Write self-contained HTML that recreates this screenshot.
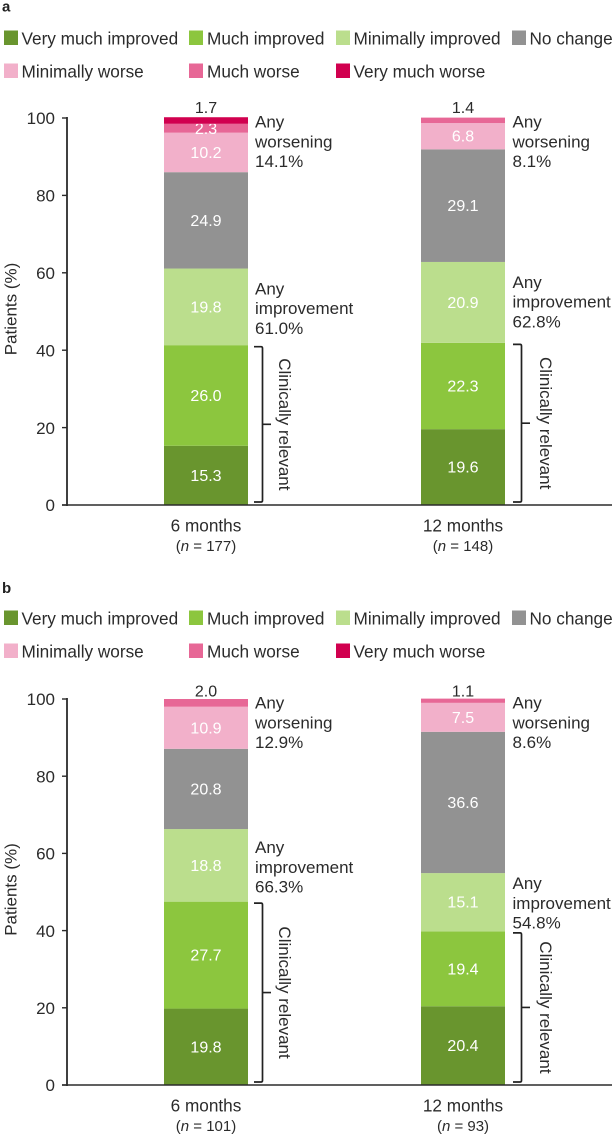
<!DOCTYPE html>
<html lang="en">
<head>
<meta charset="utf-8">
<title>Patient improvement at 6 and 12 months</title>
<style>
html,body{margin:0;padding:0;background:#fff;width:613px;height:1137px;overflow:hidden}
svg{display:block;font-family:"Liberation Sans",Arial,sans-serif;fill:#2b2b2b}
text{font-size:17px}
</style>
</head>
<body>
<svg id="figure" xmlns="http://www.w3.org/2000/svg" width="613" height="1137" viewBox="0 0 613 1137"></svg>
<script>
const seriesNames = ['Very much improved','Much improved','Minimally improved','No change','Minimally worse','Much worse','Very much worse'];
const seriesColors = ['#69952e','#8cc63e','#bbde8d','#929292','#f2b0ca','#e76796','#d1004f'];
const yTicks = [0,20,40,60,80,100];

const panelACategories = ['6 months','12 months'];
const panelASizes = [177,148];
const panelA6Months = [15.3,26.0,19.8,24.9,10.2,2.3,1.7];
const panelA12Months = [19.6,22.3,20.9,29.1,6.8,1.4,0];
const panelAWorsening = ['14.1%','8.1%'];
const panelAImprovement = ['61.0%','62.8%'];

const panelBCategories = ['6 months','12 months'];
const panelBSizes = [101,93];
const panelB6Months = [19.8,27.7,18.8,20.8,10.9,2.0,0];
const panelB12Months = [20.4,19.4,15.1,36.6,7.5,1.1,0];
const panelBWorsening = ['12.9%','8.6%'];
const panelBImprovement = ['66.3%','54.8%'];

const svg = document.getElementById('figure');
const NS = 'http://www.w3.org/2000/svg';

function make(tag, attrs, text, parent) {
  const el = document.createElementNS(NS, tag);
  for (const k in attrs) el.setAttribute(k, attrs[k]);
  if (text !== undefined) el.textContent = text;
  (parent || svg).appendChild(el);
  return el;
}

function drawPanel(p) {
  const g = make('g', {});
  
  

  const y = v => p.y0 - v * (p.y0 - p.y100) / 100;

  const letter = make('text', {x: 2, y: p.letterY, 'font-weight': 'bold', style: 'font-size:15px', fill: '#222'}, p.letter, g);
  
  

  // Legend
  const swatchX = [4, 189, 336, 512, 4, 189, 336];
  const legendTextX = [21.5, 207, 353.5, 529.5, 21.5, 207, 353.5];
  seriesNames.forEach((name, i) => {
    const row = i < 4 ? p.legendY : p.legendY + 33;
    const entry = make('g', {}, undefined, g);
    
    
    const swatch = make('rect', {x: swatchX[i], y: row - 7.5, width: 14, height: 14.5, fill: seriesColors[i]}, undefined, entry);
    
    
    const label = make('text', {x: legendTextX[i], y: row + 6.3, style: 'font-size:17.2px'}, name, entry);
    
    
  });

  // Bars
  const barLeft = [164, 421];
  const barWidth = 84;
  const noteGap = [7, 7.5];
  const bracketGap = [6, 8];
  const relevantGap = [31, 35];
  p.bars.forEach((values, b) => {
    const x = barLeft[b];
    const cx = x + barWidth / 2;
    const barGroup = make('g', {}, undefined, g);
    
    
    let cum = 0;
    let topIndex = 0;
    values.forEach((v, i) => { if (v > 0) topIndex = i; });
    values.forEach((v, i) => {
      if (v <= 0) return;
      const top = y(cum + v), bottom = y(cum);
      const seg = make('rect', {x: x, y: top, width: barWidth, height: bottom - top, fill: seriesColors[i]}, undefined, barGroup);
      
      
      if (i === topIndex) {
        const over = make('text', {x: cx, y: y(100) - p.overGap, 'text-anchor': 'middle', style: 'font-size:16px'}, v.toFixed(1), barGroup);
        
        
      } else if (v >= 2) {
        const lab = make('text', {x: cx, y: (top + bottom) / 2 + 5.5, 'text-anchor': 'middle', fill: '#fff', style: 'fill:#fff;font-size:16px'}, v.toFixed(1), barGroup);
        
        
      }
      cum += v;
    });

    // Any worsening note
    const noteX = x + barWidth + noteGap[b];
    const wTop = y(100) + 9.7;
    ['Any', 'worsening', p.worsening[b]].forEach((t, n) => {
      const note = make('text', {x: noteX, y: wTop + n * 19.7}, t, g);
      
      
    });

    // Any improvement note
    const improved = values[0] + values[1] + values[2];
    const iTop = y(improved) + p.noteOffsets[b];
    ['Any', 'improvement', p.improvement[b]].forEach((t, n) => {
      const note = make('text', {x: noteX, y: iTop + n * 19.7}, t, g);
      
      
    });

    // Clinically relevant bracket
    const bx = x + barWidth + bracketGap[b];
    const clinical = values[0] + values[1];
    const bTop = y(clinical) + 1.5;
    const bBottom = p.y0 - 3;
    const bMid = (bTop + bBottom) / 2;
    const bracket = make('path', {
      d: 'M' + bx + ' ' + bTop + 'H' + (bx + 7) + 'Q' + (bx + 8.5) + ' ' + bTop + ' ' + (bx + 8.5) + ' ' + (bTop + 1.5) +
         'V' + (bBottom - 1.5) + 'Q' + (bx + 8.5) + ' ' + bBottom + ' ' + (bx + 7) + ' ' + bBottom + 'H' + bx +
         'M' + (bx + 8.5) + ' ' + bMid + 'H' + (bx + 17),
      fill: 'none', stroke: '#222', 'stroke-width': 1.7
    }, undefined, g);
    
    
    const tx = x + barWidth + relevantGap[b];
    const rel = make('text', {x: tx, y: bMid, 'text-anchor': 'middle', transform: 'rotate(90 ' + tx + ' ' + bMid + ')'}, 'Clinically relevant', g);
    
    

    // Category labels
    const cat = make('text', {x: cx, y: p.y0 + 26.5, 'text-anchor': 'middle', style: 'font-size:17.2px'}, p.categories[b], g);
    
    
    const sz = make('text', {x: cx, y: p.y0 + 46, 'text-anchor': 'middle', style: 'font-size:15px'}, undefined, g);
    
    
    make('tspan', {}, '(', sz);
    make('tspan', {'font-style': 'italic'}, 'n', sz);
    make('tspan', {}, ' = ' + p.sizes[b] + ')', sz);
  });

  // Axes
  const yAxis = make('line', {x1: 67, x2: 67, y1: y(100) - 1, y2: p.y0 + 1, stroke: '#2b2b2b', 'stroke-width': 1.8}, undefined, g);
  
  
  const xAxis = make('line', {x1: 62, x2: 612, y1: p.y0, y2: p.y0, stroke: '#2b2b2b', 'stroke-width': 1.6}, undefined, g);
  
  
  yTicks.forEach(t => {
    const tick = make('line', {x1: 62, x2: 67, y1: y(t), y2: y(t), stroke: '#2b2b2b', 'stroke-width': 1.4}, undefined, g);
    
    
    const lab = make('text', {x: 55, y: y(t) + 6.2, 'text-anchor': 'end'}, String(t), g);
    
    
  });
  const ym = (y(100) + p.y0) / 2 - 2.5;
  const title = make('text', {x: 16.5, y: ym, 'text-anchor': 'middle', transform: 'rotate(-90 16.5 ' + ym + ')'}, 'Patients (%)', g);
  
  
}

drawPanel({
  letter: 'a', letterY: 11.5, legendY: 38, y0: 505, y100: 118, overGap: 5,
  categories: panelACategories, sizes: panelASizes,
  bars: [panelA6Months, panelA12Months],
  worsening: panelAWorsening, improvement: panelAImprovement,
  noteOffsets: [26, 26]
});
drawPanel({
  letter: 'b', letterY: 593, legendY: 618, y0: 1085, y100: 699, overGap: 2.5,
  categories: panelBCategories, sizes: panelBSizes,
  bars: [panelB6Months, panelB12Months],
  worsening: panelBWorsening, improvement: panelBImprovement,
  noteOffsets: [24, 16]
});
</script>
</body>
</html>
